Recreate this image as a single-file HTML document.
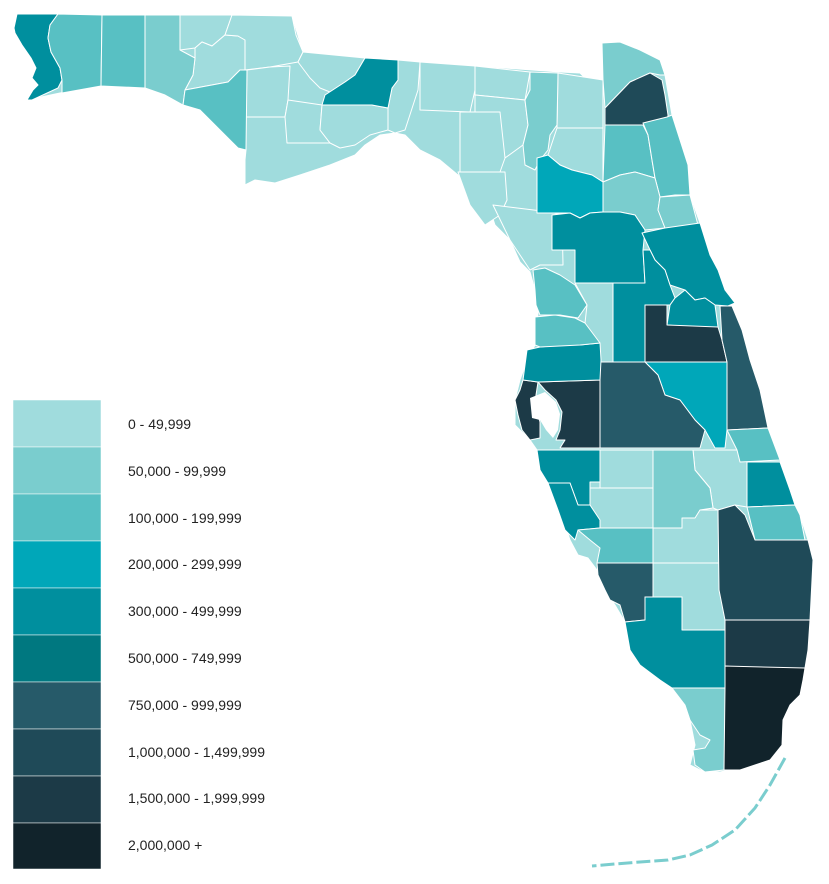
<!DOCTYPE html>
<html><head><meta charset="utf-8"><style>
html,body{margin:0;padding:0;background:#fff;width:829px;height:884px;overflow:hidden}
svg{display:block}
text{font-family:"Liberation Sans",Arial,sans-serif;font-size:14px;fill:#222}
</style></head><body>
<svg width="829" height="884" viewBox="0 0 829 884">
<g stroke="#fff" stroke-width="1" stroke-linejoin="round">
<polygon fill="#a0dcdd" points="27,100 60,93 100,86 145,88 165,95 183,105 200,110 215,125 238,148 246,150 245,160 245,185 255,180 275,183 300,175 330,165 355,155 365,145 380,135 395,133 405,135 420,150 440,160 458,175 470,195 490,210 495,225 510,240 520,262 530,272 535,290 538,313 535,345 527,360 520,380 515,400 515,425 530,440 537,450 540,465 545,475 550,490 560,510 570,540 578,555 588,558 597,570 605,590 615,605 625,622 630,650 640,665 660,680 675,690 685,705 690,720 695,745 690,765 700,770 720,772 745,767 770,760 782,745 783,720 790,705 800,695 805,668 810,620 811,600 813,560 808,540 800,515 790,490 780,460 768,428 760,390 750,360 742,330 732,306 725,290 718,270 710,255 700,223 690,195 688,165 680,140 672,115 665,75 660,60 640,50 620,42 602,43 603,80 585,78 580,73 560,72 420,62 397,60 303,52 292,16 180,15 17,14 14,28 15,33 22,45 31,58 36,68 32,78 38,85 33,90"/>
<polygon fill="#a0dcdd" points="180,15 232,15 225,35 212,46 202,42 195,48 180,50"/>
<polygon fill="#a0dcdd" points="195,48 202,42 212,46 225,35 238,36 245,40 245,70 240,70 228,82 185,90 193,75 195,58"/>
<polygon fill="#a0dcdd" points="232,15 292,16 296,35 303,52 298,62 270,67 245,70 245,40 238,36 225,35"/>
<polygon fill="#a0dcdd" points="247,70 270,67 290,66 288,100 285,117 246,117"/>
<polygon fill="#a0dcdd" points="288,100 322,105 320,130 330,143 287,143 285,117"/>
<polygon fill="#a0dcdd" points="303,52 365,58 355,75 345,82 330,92 320,88 310,78 298,62"/>
<polygon fill="#a0dcdd" points="322,105 372,105 388,108 388,130 370,135 355,145 340,148 330,143 320,130"/>
<polygon fill="#a0dcdd" points="398,60 420,62 418,90 405,130 395,133 388,130 388,108 392,88 398,80"/>
<polygon fill="#a0dcdd" points="420,62 475,66 475,90 470,112 420,110"/>
<polygon fill="#a0dcdd" points="475,66 530,72 525,100 475,95"/>
<polygon fill="#a0dcdd" points="475,95 525,100 528,125 523,145 505,158 500,130 475,125"/>
<polygon fill="#a0dcdd" points="460,112 500,112 505,158 500,172 460,172"/>
<polygon fill="#a0dcdd" points="458,172 505,172 507,200 500,215 485,225 470,205"/>
<polygon fill="#a0dcdd" points="493,205 550,212 562,215 563,265 540,265 530,270 510,240"/>
<polygon fill="#a0dcdd" points="558,73 603,80 603,130 557,128"/>
<polygon fill="#a0dcdd" points="557,128 603,128 603,182 592,175 572,170 560,165 548,155"/>
<polygon fill="#a0dcdd" points="575,283 613,283 613,362 600,362 585,323 587,305"/>
<polygon fill="#a0dcdd" points="600,450 653,450 653,488 600,488"/>
<polygon fill="#a0dcdd" points="583,488 653,488 653,528 600,528 583,520"/>
<polygon fill="#a0dcdd" points="693,450 737,450 747,462 747,507 735,505 718,510 713,508 710,488 695,470"/>
<polygon fill="#a0dcdd" points="653,528 682,528 682,518 700,510 718,510 719,563 653,563"/>
<polygon fill="#a0dcdd" points="653,563 719,563 725,600 725,630 682,630 682,597 653,597"/>
<polygon fill="#008f9e" points="17,14 58,14 50,25 48,38 51,52 60,68 62,80 58,88 32,100 27,100 33,90 38,85 32,78 36,68 31,58 22,45 15,33 14,28"/>
<polygon fill="#58c0c3" points="58,14 102,15 101,86 62,93 62,80 60,68 51,52 48,38 50,25"/>
<polygon fill="#58c0c3" points="102,15 145,15 145,88 101,86"/>
<polygon fill="#7acdce" points="145,15 180,15 180,50 195,58 193,75 185,90 183,105 165,95 145,88"/>
<polygon fill="#58c0c3" points="185,90 228,82 240,70 247,70 246,150 238,148 215,125 200,110 183,105"/>
<polygon fill="#008f9e" points="365,58 398,60 398,80 392,88 388,108 372,105 322,105 325,95 345,82 355,75"/>
<polygon fill="#7acdce" points="530,72 558,73 557,125 550,135 548,150 540,160 535,170 525,165 523,145 528,125 525,100 530,90"/>
<polygon fill="#7acdce" points="602,43 620,42 640,50 660,60 665,75 660,75 650,73 630,82 605,108 603,80"/>
<polygon fill="#1f4a58" points="605,108 630,82 650,73 662,80 665,95 668,115 667,137 650,135 643,125 605,125"/>
<polygon fill="#58c0c3" points="605,125 643,125 648,135 652,160 655,178 635,172 620,175 603,182"/>
<polygon fill="#58c0c3" points="643,123 667,117 672,115 680,140 688,165 690,195 675,195 660,197 655,178 652,160 648,135"/>
<polygon fill="#7acdce" points="603,182 620,175 635,172 655,178 660,197 658,210 665,228 645,230 635,215 620,212 603,212"/>
<polygon fill="#7acdce" points="660,197 690,195 698,225 700,243 668,243 665,228 658,210"/>
<polygon fill="#00a7b9" points="537,158 548,155 560,165 572,170 592,175 603,182 603,212 590,213 580,218 570,213 552,213 537,213"/>
<polygon fill="#008f9e" points="552,215 570,213 580,218 590,213 603,212 620,212 635,215 645,230 643,250 645,283 575,283 575,250 552,250"/>
<polygon fill="#008f9e" points="642,233 665,228 700,223 710,255 718,270 725,290 735,303 728,306 715,305 705,298 695,300 685,290 670,285 665,270 655,260 650,250"/>
<polygon fill="#008f9e" points="613,283 645,283 643,250 650,250 655,260 665,270 670,285 675,298 670,305 645,305 645,362 613,362"/>
<polygon fill="#008f9e" points="670,305 675,298 685,290 695,300 705,298 715,305 718,327 700,328 667,325"/>
<polygon fill="#1c3a47" points="645,305 667,305 667,325 718,327 722,340 727,362 645,362"/>
<polygon fill="#265a69" points="720,306 732,306 742,330 750,360 760,390 768,428 727,430 727,362 722,340"/>
<polygon fill="#00a7b9" points="645,362 727,362 727,430 725,448 715,448 705,430 695,420 680,400 665,395 658,375"/>
<polygon fill="#265a69" points="600,362 613,362 645,362 658,375 665,395 680,400 695,420 705,430 700,448 600,448"/>
<polygon fill="#1c3a47" points="538,382 600,380 600,448 560,448 565,440 556,440 560,430 562,412 556,400 545,390"/>
<polygon fill="#1c3a47" points="523,380 538,382 536,395 535,405 540,422 540,438 530,440 522,430 518,415 515,400 520,390"/>
<polygon fill="#008f9e" points="527,350 540,347 560,345 580,345 600,343 601,360 600,380 538,382 523,380"/>
<polygon fill="#58c0c3" points="535,317 555,315 575,318 585,323 600,343 580,345 540,347 535,345"/>
<polygon fill="#58c0c3" points="533,270 545,268 560,275 575,285 587,305 578,318 560,315 540,315 536,305 535,290"/>
<polygon fill="#008f9e" points="537,450 600,450 600,482 590,482 590,505 578,505 570,483 548,483 540,470"/>
<polygon fill="#008f9e" points="548,483 570,483 578,505 590,505 600,520 600,528 578,530 575,540 565,530 558,510"/>
<polygon fill="#7acdce" points="653,450 693,450 695,470 710,488 713,508 700,510 695,518 682,518 682,528 653,528"/>
<polygon fill="#58c0c3" points="727,430 768,428 780,460 740,462 737,450"/>
<polygon fill="#008f9e" points="747,462 780,462 790,490 795,505 747,507"/>
<polygon fill="#58c0c3" points="747,507 795,505 800,515 805,540 755,540"/>
<polygon fill="#1f4a58" points="718,510 735,505 745,515 755,540 808,540 813,560 811,600 810,620 725,620 719,590"/>
<polygon fill="#1c3a47" points="725,620 810,620 808,650 805,668 790,668 745,668 725,666"/>
<polygon fill="#11232b" points="724,666 805,668 803,680 800,695 790,705 783,720 782,745 770,760 755,765 740,770 724,770"/>
<polygon fill="#58c0c3" points="578,530 600,528 653,528 653,563 597,563 600,548 590,540"/>
<polygon fill="#265a69" points="597,563 653,563 653,597 645,597 645,620 625,622 620,605 610,600 605,590 598,575"/>
<polygon fill="#008f9e" points="625,622 645,620 645,597 682,597 682,630 725,630 725,688 672,688 660,680 640,665 630,650"/>
<polygon fill="#7acdce" points="672,688 725,688 724,770 705,772 695,765 693,750 705,748 710,740 700,735 690,720 685,705"/>
</g>
<polygon fill="#fff" points="530,398 545,392 556,402 560,414 558,430 553,438 546,430 540,420 532,418"/>
<polyline fill="none" stroke="#7acdce" stroke-width="3" stroke-dasharray="14 4" points="785,758 770,785 755,808 735,830 712,845 690,855 668,860 640,862 615,864 592,866"/>
<g stroke="#fff" stroke-width="0.5">
<rect x="13" y="400" width="88" height="47" fill="#a0dcdd"/>
<rect x="13" y="447" width="88" height="47" fill="#7acdce"/>
<rect x="13" y="494" width="88" height="47" fill="#58c0c3"/>
<rect x="13" y="541" width="88" height="47" fill="#00a7b9"/>
<rect x="13" y="588" width="88" height="47" fill="#008f9e"/>
<rect x="13" y="635" width="88" height="47" fill="#007880"/>
<rect x="13" y="682" width="88" height="47" fill="#265a69"/>
<rect x="13" y="729" width="88" height="47" fill="#1f4a58"/>
<rect x="13" y="776" width="88" height="47" fill="#1c3a47"/>
<rect x="13" y="823" width="88" height="46" fill="#11232b"/>
</g>
<text x="128" y="429">0 - 49,999</text>
<text x="128" y="476">50,000 - 99,999</text>
<text x="128" y="523">100,000 - 199,999</text>
<text x="128" y="569">200,000 - 299,999</text>
<text x="128" y="616">300,000 - 499,999</text>
<text x="128" y="663">500,000 - 749,999</text>
<text x="128" y="710">750,000 - 999,999</text>
<text x="128" y="757">1,000,000 - 1,499,999</text>
<text x="128" y="803">1,500,000 - 1,999,999</text>
<text x="128" y="850">2,000,000 +</text>
</svg>
</body></html>
